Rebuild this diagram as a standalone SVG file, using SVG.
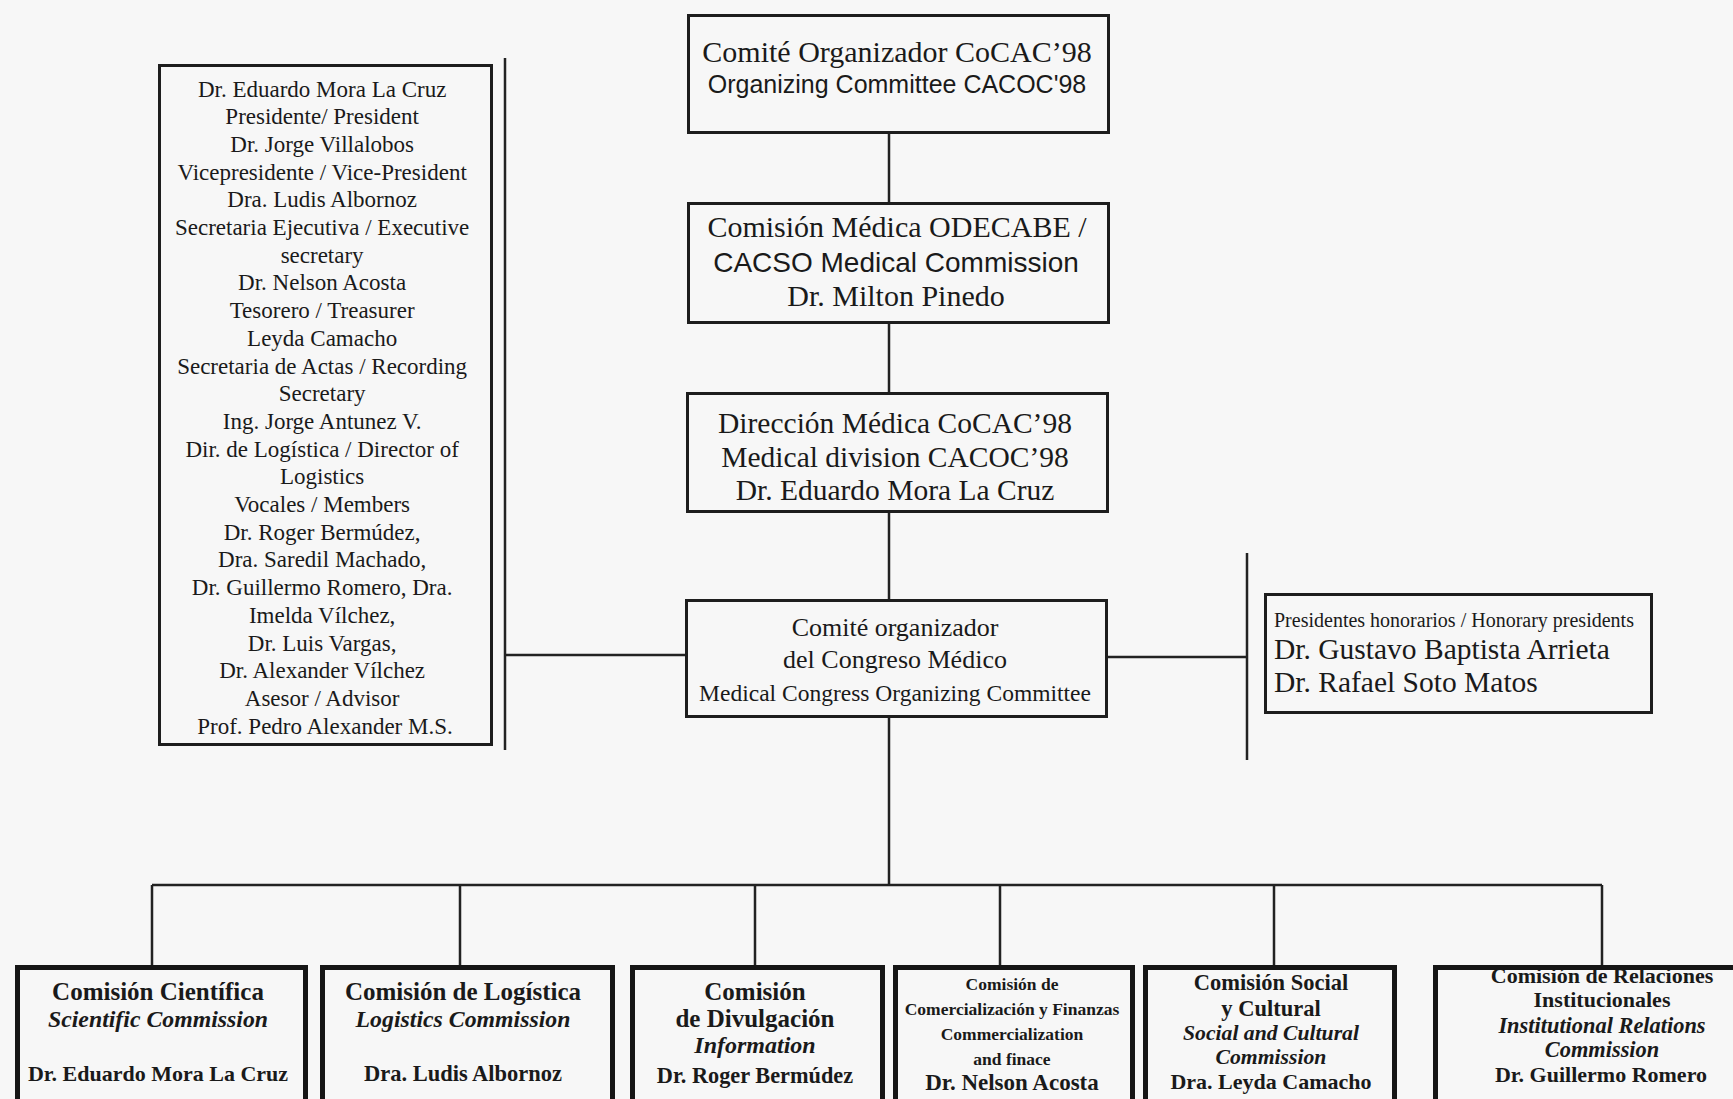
<svg xmlns="http://www.w3.org/2000/svg" width="1733" height="1099" viewBox="0 0 1733 1099">
<style>
text{fill:#1a1a1a;font-family:"Liberation Serif","Times New Roman",serif;text-anchor:middle}
.sans{font-family:"Liberation Sans",Arial,sans-serif}
.fr{fill:none;stroke:#1e1e1e;stroke-width:3}
.fb{fill:none;stroke:#161616;stroke-width:5}
.c{fill:none;stroke:#222;stroke-width:2.5}
.bt text,.bt{font-weight:bold}
.it{font-style:italic}
.left{text-anchor:start}
</style>
<rect x="0" y="0" width="1733" height="1099" fill="#f7f7f7"/>

<g id="connectors">
<path class="c" d="M889,133V202M889,324V392M889,513V599M889,718V885"/>
<path class="c" d="M505,58V750M505,655H686"/>
<path class="c" d="M1247,553V760M1108,657H1247"/>
<path class="c" d="M152,885H1602M152,885V965M460,885V965M755,885V965M1000,885V965M1274,885V965M1602,885V965"/>
</g>

<g id="node-cocac">
<text x="897" y="62" font-size="30">Comité Organizador CoCAC’98</text>
<text class="sans" x="897" y="93" font-size="25">Organizing Committee CACOC'98</text>
<rect class="fr" x="688.5" y="15.5" width="420" height="117"/>
</g>

<g id="node-odecabe">
<text x="897" y="237" font-size="30">Comisión Médica ODECABE /</text>
<text class="sans" x="896" y="272" font-size="28">CACSO Medical Commission</text>
<text x="896" y="306" font-size="30">Dr. Milton Pinedo</text>
<rect class="fr" x="688.5" y="203.5" width="420" height="119"/>
</g>

<g id="node-direccion">
<text x="895" y="433" font-size="29.5">Dirección Médica CoCAC’98</text>
<text x="895" y="467" font-size="29.5">Medical division CACOC’98</text>
<text x="895" y="500" font-size="29.5">Dr. Eduardo Mora La Cruz</text>
<rect class="fr" x="687.5" y="393.5" width="420" height="118"/>
</g>

<g id="node-congreso">
<text x="895" y="636" font-size="26">Comité organizador</text>
<text x="895" y="668" font-size="26">del Congreso Médico</text>
<text x="895" y="701" font-size="23.5">Medical Congress Organizing Committee</text>
<rect class="fr" x="686.5" y="600.5" width="420" height="116"/>
</g>

<g id="node-junta">
<text x="325" y="96.5" font-size="23">
<tspan x="325">Dr. Eduardo Mora La Cruz</tspan>
<tspan x="325" dy="27.7">Presidente/ President</tspan>
<tspan x="325" dy="27.7">Dr. Jorge Villalobos</tspan>
<tspan x="325" dy="27.7">Vicepresidente / Vice-President</tspan>
<tspan x="325" dy="27.7">Dra. Ludis Albornoz</tspan>
<tspan x="325" dy="27.7">Secretaria Ejecutiva / Executive</tspan>
<tspan x="325" dy="27.7">secretary</tspan>
<tspan x="325" dy="27.7">Dr. Nelson Acosta</tspan>
<tspan x="325" dy="27.7">Tesorero / Treasurer</tspan>
<tspan x="325" dy="27.7">Leyda Camacho</tspan>
<tspan x="325" dy="27.7">Secretaria de Actas / Recording</tspan>
<tspan x="325" dy="27.7">Secretary</tspan>
<tspan x="325" dy="27.7">Ing. Jorge Antunez V.</tspan>
<tspan x="325" dy="27.7">Dir. de Logística / Director of</tspan>
<tspan x="325" dy="27.7">Logistics</tspan>
<tspan x="325" dy="27.7">Vocales / Members</tspan>
<tspan x="325" dy="27.7">Dr. Roger Bermúdez,</tspan>
<tspan x="325" dy="27.7">Dra. Saredil Machado,</tspan>
<tspan x="325" dy="27.7">Dr. Guillermo Romero, Dra.</tspan>
<tspan x="325" dy="27.7">Imelda Vílchez,</tspan>
<tspan x="325" dy="27.7">Dr. Luis Vargas,</tspan>
<tspan x="325" dy="27.7">Dr. Alexander Vílchez</tspan>
<tspan x="325" dy="27.7">Asesor / Advisor</tspan>
<tspan x="325" dy="27.7">Prof. Pedro Alexander M.S.</tspan>
</text>
<rect class="fr" x="159.5" y="65.5" width="332" height="679"/>
</g>

<g id="node-honorarios">
<text class="left" x="1274" y="627" font-size="20">Presidentes honorarios / Honorary presidents</text>
<text class="left" x="1274" y="659" font-size="29.5">Dr. Gustavo Baptista Arrieta</text>
<text class="left" x="1274" y="692" font-size="29.5">Dr. Rafael Soto Matos</text>
<rect class="fr" x="1265.5" y="594.5" width="386" height="118"/>
</g>

<g id="node-cientifica" class="bt">
<text x="158" y="1000" font-size="25">Comisión Científica</text>
<text class="it" x="158" y="1027" font-size="23.8">Scientific Commission</text>
<text x="158" y="1081" font-size="22">Dr. Eduardo Mora La Cruz</text>
<rect class="fb" x="17.5" y="967.5" width="288" height="150"/>
</g>

<g id="node-logistica" class="bt">
<text x="463" y="1000" font-size="25">Comisión de Logística</text>
<text class="it" x="463" y="1027" font-size="23.8">Logistics Commission</text>
<text x="463" y="1081" font-size="22.5">Dra. Ludis Albornoz</text>
<rect class="fb" x="322.5" y="967.5" width="290" height="150"/>
</g>

<g id="node-divulgacion" class="bt">
<text x="755" y="1000" font-size="25">Comisión</text>
<text x="755" y="1027" font-size="25">de Divulgación</text>
<text class="it" x="755" y="1053" font-size="24">Information</text>
<text x="755" y="1083" font-size="22.3">Dr. Roger Bermúdez</text>
<rect class="fb" x="632.5" y="967.5" width="250" height="150"/>
</g>

<g id="node-finanzas" class="bt">
<text x="1012" y="990" font-size="17.5">Comisión de</text>
<text x="1012" y="1015" font-size="17.5">Comercialización y Finanzas</text>
<text x="1012" y="1040" font-size="17.5">Commercialization</text>
<text x="1012" y="1065" font-size="17.5">and finace</text>
<text x="1012" y="1090" font-size="23">Dr. Nelson Acosta</text>
<rect class="fb" x="895.5" y="967.5" width="237" height="150"/>
</g>

<g id="node-social" class="bt">
<text x="1271" y="990" font-size="22.5">Comisión Social</text>
<text x="1271" y="1016" font-size="22.5">y Cultural</text>
<text class="it" x="1271" y="1040" font-size="21.7">Social and Cultural</text>
<text class="it" x="1271" y="1064" font-size="21.7">Commission</text>
<text x="1271" y="1089" font-size="22">Dra. Leyda Camacho</text>
<rect class="fb" x="1145.5" y="967.5" width="249" height="150"/>
</g>

<g id="node-relaciones" class="bt">
<text x="1602" y="983" font-size="22">Comisión de Relaciones</text>
<text x="1602" y="1007" font-size="22">Institucionales</text>
<text class="it" x="1602" y="1033" font-size="22.4">Institutional Relations</text>
<text class="it" x="1602" y="1057" font-size="22.4">Commission</text>
<text x="1601" y="1082" font-size="22">Dr. Guillermo Romero</text>
<rect class="fb" x="1435.5" y="967.5" width="320" height="150"/>
</g>
</svg>
